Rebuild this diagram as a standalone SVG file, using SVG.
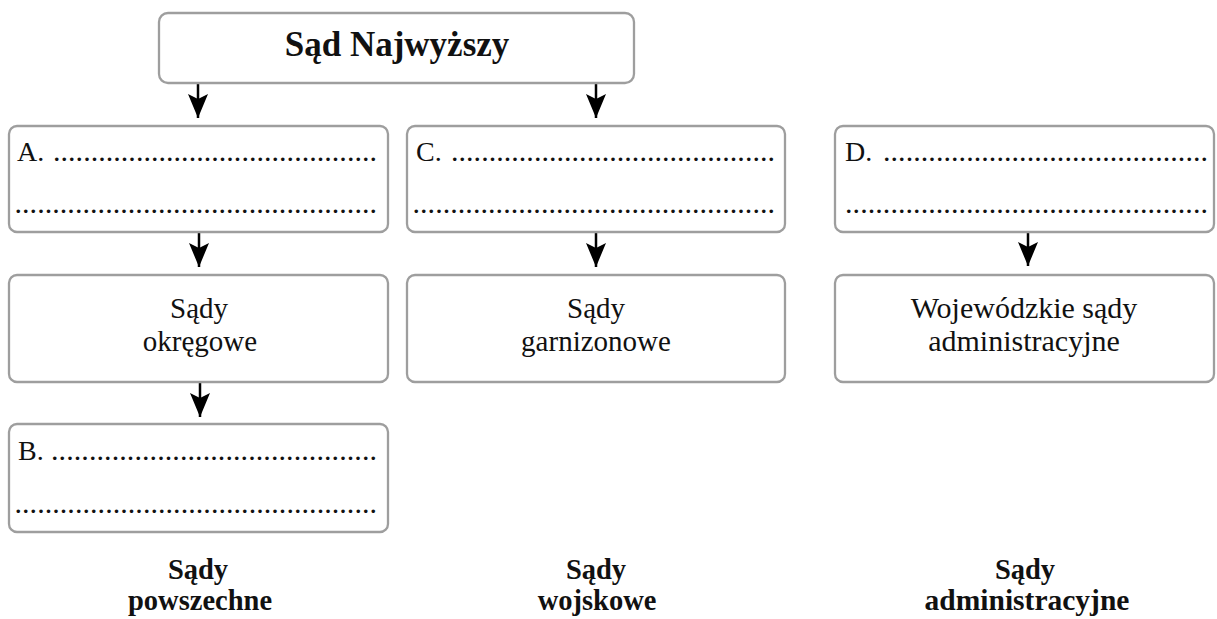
<svg xmlns="http://www.w3.org/2000/svg" width="1217" height="619" viewBox="0 0 1217 619">
<style>
.box{fill:#fff;stroke:#9e9e9e;stroke-width:2.3}
.t{font-family:"Liberation Serif","Times New Roman",serif;font-size:29px;fill:#111}
.c{text-anchor:middle}
.b{font-weight:bold}
.dots{font-family:"Liberation Serif","Times New Roman",serif;font-size:30px;fill:#111}
.conn{stroke:#000;stroke-width:2.5;fill:none;marker-end:url(#ah)}
</style>
<defs>
<marker id="ah" viewBox="0 0 24 20" refX="24" refY="10" markerWidth="24" markerHeight="20" markerUnits="userSpaceOnUse" orient="auto">
<path d="M0,0 L24,10 L0,20 L5,10 Z" fill="#000"/>
</marker>
</defs>
<rect width="1217" height="619" fill="#fff"/>
<g id="connectors">
<line class="conn" x1="198" y1="84" x2="198" y2="118"/>
<line class="conn" x1="596" y1="84" x2="596" y2="118"/>
<line class="conn" x1="199" y1="233" x2="199" y2="267"/>
<line class="conn" x1="596" y1="233" x2="596" y2="267"/>
<line class="conn" x1="1028" y1="233" x2="1028" y2="266"/>
<line class="conn" x1="200" y1="383" x2="200" y2="417"/>
</g>
<g id="sad-najwyzszy">
<rect class="box" x="159" y="13" width="475" height="70" rx="9"/>
<text class="t c b" x="397" y="56" style="font-size:35px">Sąd Najwyższy</text>
</g>
<g id="node-a">
<rect class="box" x="9" y="126" width="379" height="106" rx="8"/>
<text class="t" x="17" y="161" style="font-size:28px">A.</text>
<text class="dots" x="53" y="161" textLength="324" lengthAdjust="spacing">...........................................</text>
<text class="dots" x="14.5" y="213" textLength="362.5" lengthAdjust="spacing">................................................</text>
</g>
<g id="node-c">
<rect class="box" x="407" y="126" width="378" height="106" rx="8"/>
<text class="t" x="416" y="161" style="font-size:28px">C.</text>
<text class="dots" x="451" y="161" textLength="324" lengthAdjust="spacing">...........................................</text>
<text class="dots" x="412.5" y="213" textLength="362.5" lengthAdjust="spacing">................................................</text>
</g>
<g id="node-d">
<rect class="box" x="835" y="126" width="379" height="106" rx="8"/>
<text class="t" x="845" y="161" style="font-size:28px">D.</text>
<text class="dots" x="883" y="161" textLength="325" lengthAdjust="spacing">...........................................</text>
<text class="dots" x="845" y="213" textLength="363" lengthAdjust="spacing">................................................</text>
</g>
<g id="sady-okregowe">
<rect class="box" x="9" y="275" width="379" height="107" rx="8"/>
<text class="t c" x="199" y="318">Sądy</text>
<text class="t c" x="200" y="351">okręgowe</text>
</g>
<g id="sady-garnizonowe">
<rect class="box" x="407" y="275" width="378" height="107" rx="8"/>
<text class="t c" x="596" y="318">Sądy</text>
<text class="t c" x="596" y="351">garnizonowe</text>
</g>
<g id="wojewodzkie-sady">
<rect class="box" x="835" y="275" width="379" height="107" rx="8"/>
<text class="t c" x="1024" y="318" style="font-size:30px">Wojewódzkie sądy</text>
<text class="t c" x="1024" y="351" style="font-size:30px">administracyjne</text>
</g>
<g id="node-b">
<rect class="box" x="9" y="424" width="379" height="108" rx="8"/>
<text class="t" x="18" y="460" style="font-size:28px">B.</text>
<text class="dots" x="51" y="460" textLength="326" lengthAdjust="spacing">...........................................</text>
<text class="dots" x="14.5" y="513" textLength="362.5" lengthAdjust="spacing">................................................</text>
</g>
<g id="labels">
<text class="t c b" x="198" y="579" style="font-size:28.5px">Sądy</text>
<text class="t c b" x="200" y="610" style="font-size:28.5px">powszechne</text>
<text class="t c b" x="596" y="579" style="font-size:28.5px">Sądy</text>
<text class="t c b" x="597" y="610" style="font-size:28.5px">wojskowe</text>
<text class="t c b" x="1025" y="579" style="font-size:28.5px">Sądy</text>
<text class="t c b" x="1027" y="610" style="font-size:29.5px">administracyjne</text>
</g>
</svg>
